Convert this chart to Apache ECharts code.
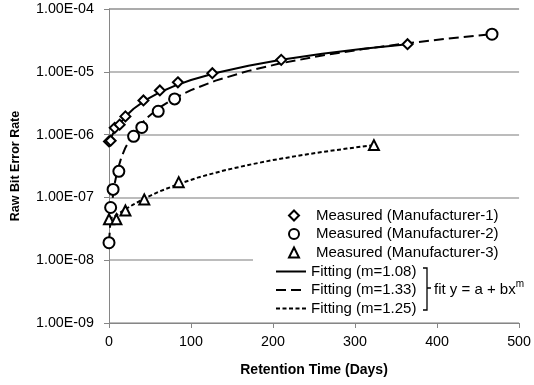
<!DOCTYPE html>
<html>
<head>
<meta charset="utf-8">
<script src="https://cdn.jsdelivr.net/npm/echarts@6.0.0/dist/echarts.min.js"></script>
<style>
  html, body { margin: 0; padding: 0; background: #fff; }
  #chart { width: 534px; height: 385px; }
</style>
</head>
<body>
<div id="chart"></div>
<script>
const xTicks = [0, 100, 200, 300, 400, 500];
const yTicks = [1e-9, 1e-8, 1e-7, 1e-6, 1e-5, 1e-4];
const yTickLabels = ["1.00E-09", "1.00E-08", "1.00E-07", "1.00E-06", "1.00E-05", "1.00E-04"];

// measured points
const m1Days = [0, 2, 7, 13, 20, 42, 62, 84, 126, 210, 364];
const m1Rate = [7.8e-7, 8.0e-7, 1.28e-6, 1.44e-6, 1.95e-6, 3.5e-6, 5.05e-6, 6.8e-6, 9.5e-6, 1.55e-5, 2.75e-5];
const m2Days = [0, 2, 5, 12, 30, 40, 60, 80, 467];
const m2Rate = [1.9e-8, 6.9e-8, 1.34e-7, 2.6e-7, 9.4e-7, 1.3e-6, 2.35e-6, 3.7e-6, 3.97e-5];
const m3Days = [0, 9, 20, 43, 85, 323];
const m3Rate = [4.5e-8, 4.5e-8, 6.2e-8, 9.3e-8, 1.75e-7, 6.8e-7];

// fitted curves
const fit1Days = [0, 5, 10, 20, 30, 45, 60, 80, 100, 130, 170, 210, 260, 310, 364];
const fit1Rate = [7.8e-7, 1.04e-6, 1.33e-6, 1.94e-6, 2.58e-6, 3.57e-6, 4.59e-6, 5.98e-6, 7.4e-6, 9.57e-6, 1.25e-5, 1.55e-5, 1.94e-5, 2.33e-5, 2.75e-5];
const fit2Days = [0, 1, 2, 4, 7, 10, 15, 20, 30, 45, 60, 80, 100, 130, 170, 210, 260, 310, 364, 410, 467];
const fit2Rate = [1.9e-8, 3.0e-8, 4.7e-8, 8.9e-8, 1.68e-7, 2.58e-7, 4.3e-7, 6.2e-7, 1.05e-6, 1.79e-6, 2.61e-6, 3.82e-6, 5.11e-6, 7.24e-6, 1.035e-5, 1.37e-5, 1.82e-5, 2.3e-5, 2.85e-5, 3.34e-5, 3.97e-5];
const fit3Days = [0, 5, 10, 20, 30, 43, 60, 85, 110, 140, 170, 200, 230, 260, 290, 323];
const fit3Rate = [4.5e-8, 4.85e-8, 5.3e-8, 6.5e-8, 7.75e-8, 9.6e-8, 1.22e-7, 1.64e-7, 2.1e-7, 2.68e-7, 3.29e-7, 3.93e-7, 4.59e-7, 5.28e-7, 5.99e-7, 6.8e-7];

const measuredNames = ["Measured (Manufacturer-1)", "Measured (Manufacturer-2)", "Measured (Manufacturer-3)"];
const fitNames = ["Fitting (m=1.08)", "Fitting (m=1.33)", "Fitting (m=1.25)"];

const zip = (xs, ys) => xs.map((x, i) => [x, ys[i]]);
const font = "'Liberation Sans', Arial, sans-serif";

const chart = echarts.init(document.getElementById("chart"));

const fitLine = (name, days, rate, type) => ({
  name,
  type: "line",
  data: zip(days, rate),
  symbol: "none",
  smooth: false,
  z: 2,
  lineStyle: { color: "#000", width: 2, type },
  itemStyle: { color: "#000" },
});

const measured = (name, days, rate, symbol, size) => ({
  name,
  type: "scatter",
  data: zip(days, rate),
  symbol,
  symbolSize: size,
  z: 5,
  itemStyle: { color: "#fff", borderColor: "#000", borderWidth: 2, opacity: 1 },
});

chart.setOption({
  animation: false,
  textStyle: { fontFamily: font },
  grid: { left: 109, right: 11, top: 9, bottom: 62 },
  xAxis: {
    type: "value",
    min: xTicks[0],
    max: xTicks[xTicks.length - 1],
    interval: 100,
    name: "Retention Time (Days)",
    nameLocation: "middle",
    nameGap: 40,
    nameTextStyle: { fontSize: 14, fontWeight: "bold", color: "#000", fontFamily: font },
    axisLine: { lineStyle: { color: "#868686", width: 1 } },
    axisTick: { show: true, length: 5, lineStyle: { color: "#868686" } },
    axisLabel: { fontSize: 14.3, color: "#000", margin: 12, fontFamily: font },
    splitLine: { show: false },
  },
  yAxis: {
    type: "log",
    logBase: 10,
    min: yTicks[0],
    max: yTicks[yTicks.length - 1],
    name: "Raw Bit Error Rate",
    nameLocation: "middle",
    nameGap: 87,
    nameTextStyle: { fontSize: 12.5, fontWeight: "bold", color: "#000", fontFamily: font },
    axisLine: { show: true, lineStyle: { color: "#868686", width: 1 } },
    axisTick: { show: true, length: 5, lineStyle: { color: "#868686" } },
    axisLabel: {
      fontSize: 14.3,
      color: "#000",
      margin: 15,
      fontFamily: font,
      formatter: (v) => {
        const i = yTicks.findIndex((t) => Math.abs(Math.log10(t) - Math.log10(v)) < 1e-6);
        return i >= 0 ? yTickLabels[i] : "";
      },
    },
    splitLine: { show: true, lineStyle: { color: "#a6a6a6", width: 1.5 } },
  },
  legend: [
    {
      data: measuredNames,
      orient: "vertical",
      left: 283,
      top: 203,
      itemWidth: 10,
      itemHeight: 10,
      itemGap: 3.5,
      textStyle: { fontSize: 15, color: "#000", fontFamily: font, padding: [0, 0, 0, 12] },
    },
    {
      data: fitNames,
      orient: "vertical",
      left: 270,
      top: 259,
      itemWidth: 30,
      itemHeight: 12,
      itemGap: 3.5,
      itemStyle: { opacity: 0 },
      textStyle: { fontSize: 15, color: "#000", fontFamily: font },
    },
  ],
  graphic: [
    {
      type: "rect",
      z: 1,
      shape: { x: 253, y: 204, width: 275, height: 116 },
      style: { fill: "#fff" },
    },
    {
      type: "polyline",
      z: 10,
      shape: { points: [[423, 268], [427, 268], [427, 288], [431, 288], [427, 288], [427, 310], [423, 310]] },
      style: { stroke: "#000", lineWidth: 1.3, fill: null },
    },
    {
      type: "text",
      z: 10,
      left: 434,
      top: 279,
      style: {
        text: "{b|fit y = a + bx}{s|m}",
        rich: {
          b: { fontSize: 15, fontFamily: font, fill: "#000", verticalAlign: "bottom" },
          s: { fontSize: 10, fontFamily: font, fill: "#000", padding: [0, 0, 8, 0] },
        },
      },
    },
  ],
  series: [
    fitLine(fitNames[0], fit1Days, fit1Rate, "solid"),
    fitLine(fitNames[1], fit2Days, fit2Rate, [10, 5]),
    fitLine(fitNames[2], fit3Days, fit3Rate, [4, 2.5]),
    measured(measuredNames[0], m1Days, m1Rate, "diamond", 10),
    measured(measuredNames[1], m2Days, m2Rate, "circle", 11),
    measured(measuredNames[2], m3Days, m3Rate, "triangle", 10),
  ],
});
</script>
</body>
</html>
